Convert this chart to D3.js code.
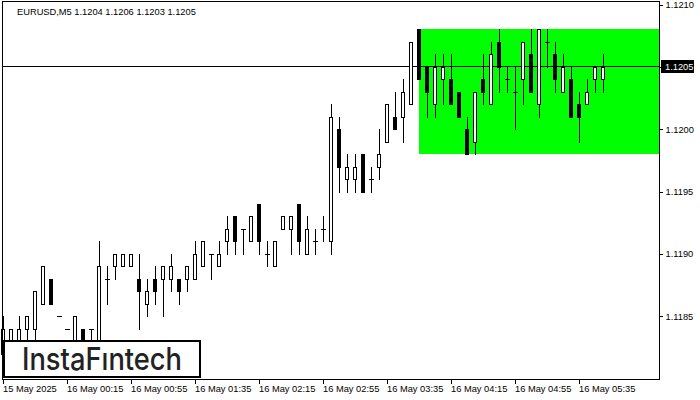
<!DOCTYPE html>
<html><head><meta charset="utf-8">
<script src="https://cdn.jsdelivr.net/npm/d3@7"></script>
<style>html,body{margin:0;padding:0;background:#fff;}svg{display:block;}</style>
</head><body>
<script>
// ---------- data ----------
const times = [
"23:35","23:40","23:45","23:50","23:55",
"00:00","00:05","00:10","00:15","00:20","00:25","00:30","00:35","00:40","00:45","00:50","00:55",
"01:00","01:05","01:10","01:15","01:20","01:25","01:30","01:35","01:40","01:45","01:50","01:55",
"02:00","02:05","02:10","02:15","02:20","02:25","02:30","02:35","02:40","02:45","02:50","02:55",
"03:00","03:05","03:10","03:15","03:20","03:25","03:30","03:35","03:40","03:45","03:50","03:55",
"04:00","04:05","04:10","04:15","04:20","04:25","04:30","04:35","04:40","04:45","04:50","04:55",
"05:00","05:05","05:10","05:15","05:20","05:25","05:30","05:35","05:40","05:45","05:50"];
const opens = [
1.1182,1.1182,1.1182,1.1184,1.1184,1.1186,1.1188,1.1185,1.1184,1.1182,
1.1184,1.1184,1.1182,1.1188,1.1189,1.1189,1.1189,1.1188,1.1186,1.1188,
1.1188,1.1188,1.1188,1.1188,1.1188,1.1189,1.1190,1.1189,1.1191,1.1193,
1.1192,1.1191,1.1194,1.1190,1.1189,1.1192,1.1192,1.1194,1.1190,1.1191,
1.1192,1.1191,1.1200,1.1196,1.1196,1.1198,1.1196,1.1197,1.1199,1.1201,
1.1201,1.1202,1.1208,1.1205,1.1202,1.1204,1.1204,1.1203,1.1200,1.1199,
1.1204,1.1202,1.1207,1.1204,1.1203,1.1204,1.1206,1.1202,1.1207,1.1206,
1.1203,1.1204,1.1202,1.1202,1.1204,1.1204];
const highs = [
1.1185,1.1184,1.1185,1.1185,1.1187,1.1189,1.1188,1.1185,1.1184,1.1185,
1.1184,1.1184,1.1191,1.1189,1.1190,1.1190,1.1190,1.1190,1.1188,1.1189,
1.1189,1.1190,1.1188,1.1189,1.1191,1.1191,1.1190,1.1191,1.1193,1.1193,
1.1192,1.1193,1.1194,1.1191,1.1191,1.1193,1.1193,1.1194,1.1193,1.1192,
1.1193,1.1202,1.1201,1.1198,1.1198,1.1198,1.1197,1.1200,1.1202,1.1203,
1.1204,1.1207,1.1208,1.1205,1.1206,1.1206,1.1206,1.1203,1.1201,1.1203,
1.1206,1.1207,1.1208,1.1205,1.1205,1.1207,1.1208,1.1208,1.1208,1.1207,
1.1206,1.1205,1.1203,1.1204,1.1205,1.1206];
const lows = [
1.1181,1.1181,1.1182,1.1182,1.1182,1.1186,1.1186,1.1185,1.1184,1.1182,
1.1182,1.1182,1.1182,1.1186,1.1188,1.1189,1.1189,1.1184,1.1185,1.1186,
1.1185,1.1187,1.1186,1.1187,1.1188,1.1189,1.1188,1.1189,1.1190,1.1190,
1.1190,1.1191,1.1190,1.1189,1.1189,1.1192,1.1190,1.1190,1.1190,1.1190,
1.1191,1.1190,1.1195,1.1195,1.1195,1.1195,1.1195,1.1196,1.1199,1.1200,
1.1199,1.1202,1.1204,1.1201,1.1201,1.1202,1.1202,1.1201,1.1198,1.1198,
1.1202,1.1202,1.1203,1.1203,1.1200,1.1202,1.1203,1.1201,1.1205,1.1203,
1.1203,1.1201,1.1199,1.1202,1.1203,1.1203];
const closes = [
1.1184,1.1184,1.1184,1.1185,1.1187,1.1189,1.1186,1.1185,1.1184,1.1185,
1.1182,1.1184,1.1189,1.1188,1.1190,1.1190,1.1190,1.1187,1.1187,1.1187,
1.1189,1.1189,1.1187,1.1189,1.1190,1.1191,1.1190,1.1190,1.1192,1.1191,
1.1192,1.1193,1.1191,1.1190,1.1191,1.1193,1.1193,1.1191,1.1192,1.1191,
1.1192,1.1201,1.1197,1.1197,1.1197,1.1195,1.1196,1.1198,1.1202,1.1200,
1.1203,1.1207,1.1204,1.1203,1.1205,1.1205,1.1202,1.1201,1.1198,1.1203,
1.1203,1.1206,1.1205,1.1204,1.1203,1.1207,1.1203,1.1208,1.1207,1.1204,
1.1205,1.1201,1.1201,1.1203,1.1205,1.1205];
const tickTimes  = ["23:35","00:15","00:55","01:35","02:15","02:55","03:35","04:15","04:55","05:35"];
const tickLabels = ["15 May 2025","16 May 00:15","16 May 00:55","16 May 01:35","16 May 02:15","16 May 02:55","16 May 03:35","16 May 04:15","16 May 04:55","16 May 05:35"];
const priceTicks = [1.1185,1.1190,1.1195,1.1200,1.1205,1.1210];
const zoneStart = "03:55";
const zoneTop = 1.1208;
const zoneBottom = 1.1198;
const currentPrice = 1.1205;
const headerText = "EURUSD,M5  1.1204 1.1206 1.1203 1.1205";
const logoText = "InstaFıntech";

// ---------- layout ----------
const W = 700, H = 400;
const L = 2.5, T = 1.5, R = 659.5, B = 379.5;
const svg = d3.select("body").append("svg").attr("width", W).attr("height", H)
  .style("font-family", "'Liberation Sans', Arial, sans-serif");
svg.append("rect").attr("width", W).attr("height", H).attr("fill", "#fff");

const x = d3.scalePoint().domain(times).range([3, 603]);
const y = d3.scaleLinear().domain([1.1180, 1.1210]).range([378.5, 4.5]);
const py = v => Math.round(y(v));

const plot = svg.append("g");
// green zone
plot.append("rect")
  .attr("x", Math.round(x(zoneStart)))
  .attr("y", py(zoneTop))
  .attr("width", R - Math.round(x(zoneStart)))
  .attr("height", py(zoneBottom) - py(zoneTop))
  .attr("fill", "#00ff00");

// current price line
plot.append("line")
  .attr("x1", L).attr("x2", R)
  .attr("y1", py(currentPrice) - 0.5).attr("y2", py(currentPrice) - 0.5)
  .attr("stroke", "#000").attr("stroke-width", 1).attr("shape-rendering", "crispEdges");

// candles
const candles = times.map((t, i) => ({t, o: opens[i], h: highs[i], l: lows[i], c: closes[i]}));
const cg = plot.append("g").attr("shape-rendering", "crispEdges");
candles.forEach(d => {
  const cx = Math.round(x(d.t));
  const yh = py(d.h), yl = py(d.l);
  cg.append("rect").attr("x", cx).attr("y", yh).attr("width", 1).attr("height", yl - yh + 1).attr("fill", "#000");
  const top = py(Math.max(d.o, d.c)), bot = py(Math.min(d.o, d.c));
  if (d.o === d.c) {
    cg.append("rect").attr("x", cx - 2).attr("y", top).attr("width", 5).attr("height", 1).attr("fill", "#000");
  } else {
    cg.append("rect").attr("x", cx - 2 + 0.5).attr("y", top + 0.5)
      .attr("width", 3).attr("height", bot - top)
      .attr("fill", d.c > d.o ? "#fff" : "#000").attr("stroke", "#000").attr("stroke-width", 1);
  }
});

// frame
svg.append("rect").attr("x", L).attr("y", T).attr("width", R - L).attr("height", B - T)
  .attr("fill", "none").attr("stroke", "#000").attr("stroke-width", 1).attr("shape-rendering", "crispEdges");

// right axis
const yAxis = d3.axisRight(y).tickValues(priceTicks).tickFormat(d3.format(".4f")).tickSize(3).tickPadding(3);
const ya = svg.append("g").attr("transform", `translate(${R},0)`).call(yAxis);
ya.select(".domain").remove();
ya.selectAll(".tick line").attr("stroke", "#000").attr("shape-rendering", "crispEdges");
ya.selectAll(".tick text").attr("fill", "#000").style("font-size", "9.3px")
  .style("font-family", "'Liberation Sans', Arial, sans-serif");

// bottom axis
const xAxis = d3.axisBottom(x).tickValues(tickTimes)
  .tickFormat((d) => tickLabels[tickTimes.indexOf(d)]).tickSize(4).tickPadding(2);
const xa = svg.append("g").attr("transform", `translate(0,${B})`).call(xAxis);
xa.select(".domain").remove();
xa.selectAll(".tick line").attr("stroke", "#000").attr("shape-rendering", "crispEdges");
xa.selectAll(".tick text").attr("fill", "#000").attr("text-anchor", "start").attr("x", -0.5)
  .style("font-size", "9.3px").style("font-family", "'Liberation Sans', Arial, sans-serif");

// current price label
const cpy = py(currentPrice);
svg.append("rect").attr("x", 661).attr("y", cpy - 7).attr("width", 33).attr("height", 13).attr("fill", "#000");
svg.append("text").attr("x", 665).attr("y", cpy).attr("dy", "0.34em")
  .attr("fill", "#fff").style("font-size", "9.3px").text(d3.format(".4f")(currentPrice));

// header
svg.append("text").attr("x", 17).attr("y", 14.5).attr("fill", "#000")
  .style("font-size", "9.3px").text(headerText);

// logo
svg.append("rect").attr("x", 4).attr("y", 341).attr("width", 196).attr("height", 36)
  .attr("fill", "#fff").attr("stroke", "#000").attr("stroke-width", 2);
svg.append("text").attr("x", 22).attr("y", 370).attr("fill", "#222")
  .attr("textLength", 160).attr("lengthAdjust", "spacingAndGlyphs")
  .style("font-family", "Inter, 'Open Sans', sans-serif").style("font-size", "31px").style("font-weight", 500)
  .text(logoText);
</script>
</body></html>
